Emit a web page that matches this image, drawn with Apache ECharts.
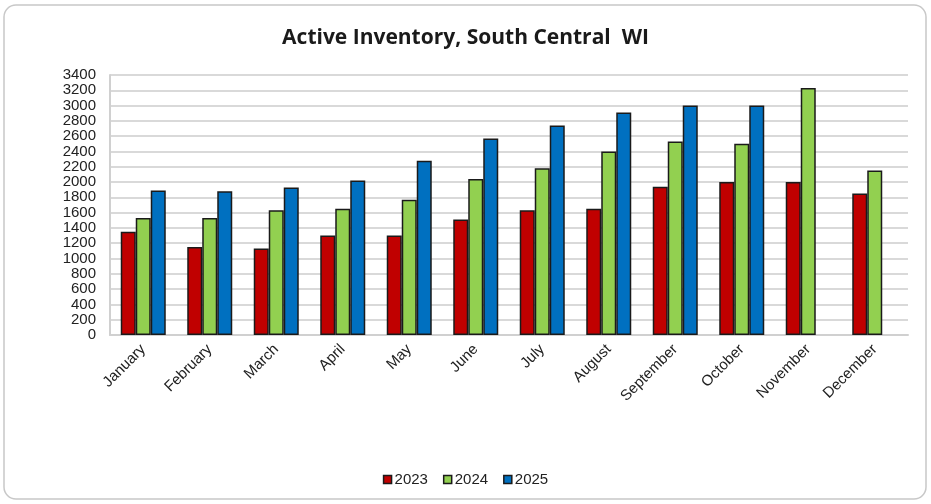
<!DOCTYPE html>
<html>
<head>
<meta charset="utf-8">
<script src="https://cdn.jsdelivr.net/npm/echarts@6/dist/echarts.min.js"></script>
<style>
  html, body { margin: 0; padding: 0; background: #fff; }
  #chart { width: 931px; height: 504px; }
</style>
</head>
<body>
<div id="chart"></div>
<script>
var months = ['January', 'February', 'March', 'April', 'May', 'June',
              'July', 'August', 'September', 'October', 'November', 'December'];
var years = ['2023', '2024', '2025'];
var inv2023 = [1350, 1150, 1130, 1300, 1300, 1510, 1630, 1650, 1940, 2000, 2000, 1850];
var inv2024 = [1530, 1530, 1630, 1650, 1770, 2040, 2180, 2400, 2530, 2500, 3230, 2150];
var inv2025 = [1890, 1880, 1930, 2020, 2280, 2570, 2740, 2910, 3000, 3000, null, null];
var colors = ['#C00000', '#92D050', '#0070C0'];

var myChart = echarts.init(document.getElementById('chart'));

function makeSeries(name, data, color) {
    return {
        name: name,
        type: 'bar',
        data: data,
        barWidth: 15,
        barGap: '0%',
        itemStyle: { color: color, borderColor: '#1a1a1a', borderWidth: 1.5 }
    };
}

var option = {
    animation: false,
    color: colors,
    graphic: [{
        type: 'rect',
        shape: { x: 4, y: 5, width: 922, height: 494, r: 12 },
        style: { fill: 'none', stroke: '#c8c8c8', lineWidth: 1.5 },
        silent: true
    }],
    title: {
        text: 'Active Inventory, South Central  WI',
        left: 'center',
        top: 23,
        textStyle: { fontFamily: 'Open Sans', fontWeight: 'bold', fontSize: 21, color: '#1a1a1a' }
    },
    legend: {
        data: years,
        bottom: 12,
        left: 'center',
        icon: 'rect',
        itemWidth: 8,
        itemHeight: 8,
        itemGap: 15,
        textStyle: { fontFamily: 'Liberation Sans', fontSize: 15, color: '#222', padding: [0, 0, 0, -2] },
        itemStyle: { borderColor: '#1a1a1a', borderWidth: 1.5 }
    },
    grid: { left: 110, right: 23, top: 75, bottom: 169 },
    xAxis: {
        type: 'category',
        data: months,
        axisLine: { lineStyle: { color: '#d0d0d0', width: 2 } },
        axisTick: { show: false },
        axisLabel: {
            rotate: 45,
            interval: 0,
            margin: 12,
            fontFamily: 'Liberation Sans',
            fontSize: 15,
            color: '#222'
        }
    },
    yAxis: {
        type: 'value',
        min: 0,
        max: 3400,
        interval: 200,
        axisLine: { show: true, lineStyle: { color: '#d0d0d0', width: 2 } },
        axisTick: { show: false },
        splitLine: { lineStyle: { color: '#d9d9d9', width: 2 } },
        axisLabel: {
            margin: 14,
            fontFamily: 'Liberation Sans',
            fontSize: 15,
            color: '#222',
            formatter: function (v) { return String(v); }
        }
    },
    series: [
        makeSeries(years[0], inv2023, colors[0]),
        makeSeries(years[1], inv2024, colors[1]),
        makeSeries(years[2], inv2025, colors[2])
    ]
};
myChart.setOption(option);
</script>
</body>
</html>
